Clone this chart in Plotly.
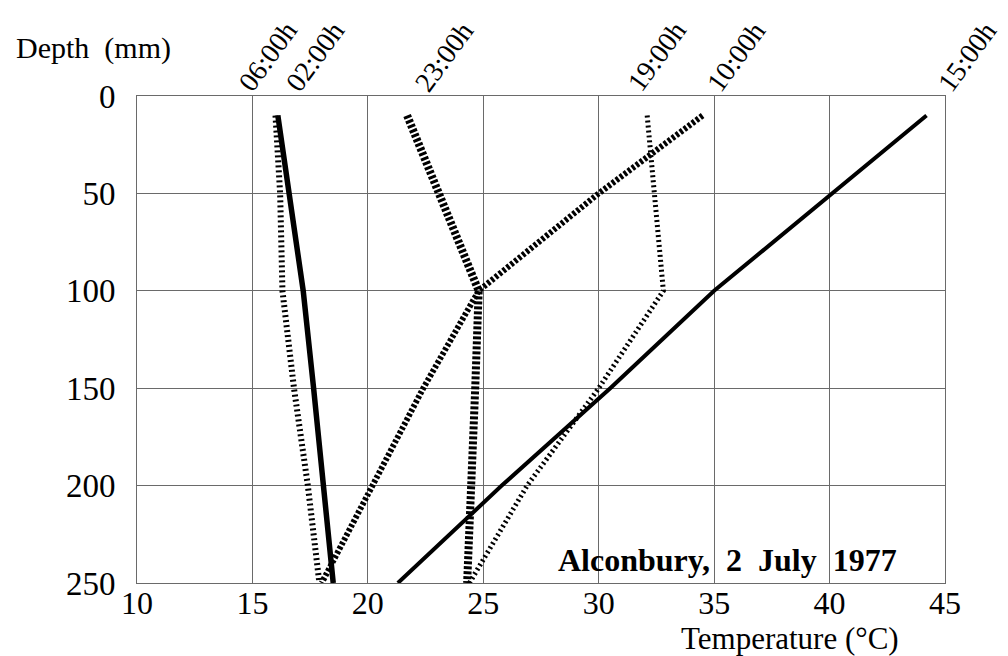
import plotly.graph_objects as go

# ---- data ----
depth_mm = [10, 50, 100, 150, 200, 250]
t_0600 = [16.0, 16.2, 16.3, 16.8, 17.4, 17.9]
t_0200 = [16.1, 16.6, 17.2, 17.65, 18.1, 18.5]
t_2300 = [21.7, 23.05, 24.8, 24.65, 24.5, 24.3]
t_1900 = [32.1, 32.4, 32.8, 30.0, 26.9, 24.4]
t_1000 = [34.5, 30.0, 24.8, 22.4, 20.2, 18.0]
t_1500 = [44.2, 40.1, 35.0, 30.5, 25.8, 21.3]

series_names = ["06:00h", "02:00h", "23:00h", "19:00h", "10:00h", "15:00h"]
series_values = [t_0600, t_0200, t_2300, t_1900, t_1000, t_1500]

x_ticks = [10, 15, 20, 25, 30, 35, 40, 45]
y_ticks = [0, 50, 100, 150, 200, 250]

# ---- styles ----
line_styles = {
    "06:00h": dict(width=6, dash="2px,3px"),
    "02:00h": dict(width=5.5, dash="solid"),
    "23:00h": dict(width=8, dash="3px,2px"),
    "19:00h": dict(width=5, dash="2px,3px"),
    "10:00h": dict(width=6, dash="3px,2px"),
    "15:00h": dict(width=4, dash="solid"),
}
label_x = {"06:00h": 14.0, "02:00h": 16.05, "23:00h": 21.65,
           "19:00h": 30.85, "10:00h": 34.3, "15:00h": 44.3}

FONT = "Liberation Serif, Times New Roman, serif"
GRID = "#6a6a6a"

fig = go.Figure()
for name, vals in zip(series_names, series_values):
    st = line_styles[name]
    fig.add_trace(go.Scatter(
        x=vals, y=depth_mm, mode="lines", name=name,
        line=dict(color="black", width=st["width"], dash=st["dash"]),
        showlegend=False, hoverinfo="skip",
    ))

annotations = []
for name in series_names:
    annotations.append(dict(
        x=label_x[name], xref="x", y=1.0, yref="paper", yshift=-4,
        text=name, showarrow=False, textangle=-54,
        xanchor="left", yanchor="bottom",
        font=dict(family=FONT, size=28, color="black"),
    ))
annotations.append(dict(
    x=28.15, xref="x", y=238, yref="y", text="<b>Alconbury,  2  July  1977</b>",
    showarrow=False, xanchor="left", yanchor="middle",
    font=dict(family=FONT, size=32, color="black"),
))
annotations.append(dict(
    x=-0.152, xref="paper", y=1.099, yref="paper", text="Depth  (mm)",
    showarrow=False, xanchor="left", yanchor="middle",
    font=dict(family=FONT, size=30, color="black"),
))
annotations.append(dict(
    x=38.3, xref="x", y=-0.113, yref="paper", text="Temperature (°C)",
    showarrow=False, xanchor="center", yanchor="middle",
    font=dict(family=FONT, size=31, color="black"),
))

fig.update_layout(
    width=1008, height=656,
    margin=dict(l=137, r=63, t=96, b=73),
    paper_bgcolor="white", plot_bgcolor="white",
    annotations=annotations,
    xaxis=dict(
        range=[10, 45], tickvals=x_ticks, ticktext=[str(v) for v in x_ticks],
        showgrid=True, gridcolor=GRID, gridwidth=1,
        showline=True, linecolor=GRID, linewidth=1, mirror=True,
        zeroline=False, ticks="", ticklabelstandoff=-8,
        tickfont=dict(family=FONT, size=32, color="black"),
    ),
    yaxis=dict(
        range=[250, 0], tickvals=y_ticks, ticktext=[str(v) for v in y_ticks],
        showgrid=True, gridcolor=GRID, gridwidth=1,
        showline=True, linecolor=GRID, linewidth=1, mirror=True,
        zeroline=False, ticks="", ticklabelstandoff=14,
        tickfont=dict(family=FONT, size=33, color="black"),
    ),
)

fig.write_html("out.html", config={"displayModeBar": False},
               post_script="document.body.style.margin='0';")
